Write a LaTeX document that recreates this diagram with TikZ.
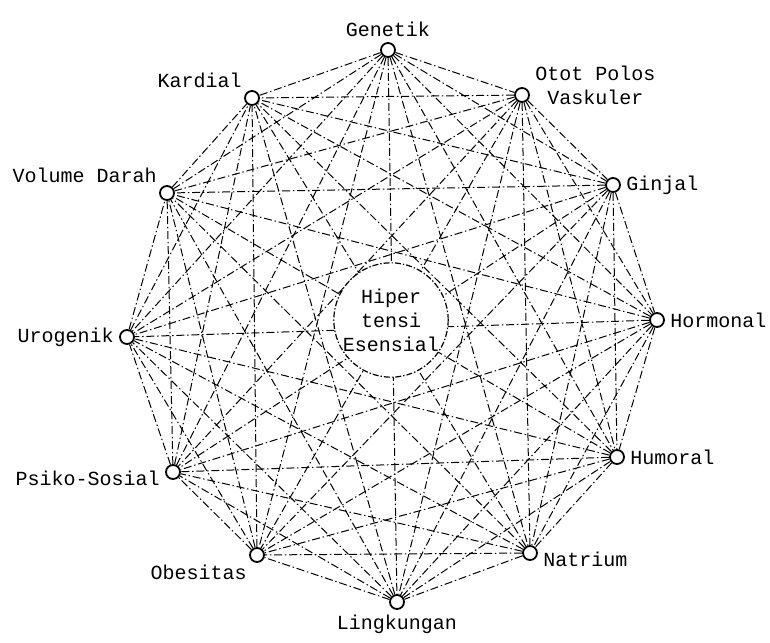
\documentclass[tikz,border=0pt]{standalone}
\usepackage{fontspec}
\setmonofont{Liberation Mono}
\usetikzlibrary{positioning}

\begin{document}
\begin{tikzpicture}[
    % pixel-like units, y going down
    x=0.5pt, y=-0.5pt,
    label distance=1pt,
    factor/.style={draw, circle, line width=0.9pt, fill=white, minimum size=7pt, inner sep=0pt},
    every label/.style={font=\ttfamily\fontsize{10}{12}\selectfont, inner sep=1.5pt},
    link/.style={line width=0.5pt, dash pattern=on 4pt off 1.4pt on 0.7pt off 1.4pt},
    core/.style={draw, circle, line width=0.6pt, dash pattern=on 3pt off 1pt on 0.7pt off 1pt, fill=white, inner sep=0pt, align=center, font=\ttfamily\fontsize{10}{12}\selectfont}
]
    \useasboundingbox (0,0) rectangle (770,642);

    % Define the factors round the ring
    \node[factor, label={above:Genetik}] (genetik) at (388,50) {};
    \node[factor, label={[align=center, yshift=5pt]right:{Otot Polos\\Vaskuler}}] (otot) at (522,95) {};
    \node[factor, label={right:Ginjal}] (ginjal) at (613,185) {};
    \node[factor, label={right:Hormonal}] (hormonal) at (657,320) {};
    \node[factor, label={right:Humoral}] (humoral) at (617,457) {};
    \node[factor, label={[yshift=-3pt]right:Natrium}] (natrium) at (530,553) {};
    \node[factor, label={below:Lingkungan}] (lingkungan) at (397,602) {};
    \node[factor, label={below left:Obesitas}] (obesitas) at (257,555) {};
    \node[factor, label={[yshift=-3pt]left:Psiko-Sosial}] (psiko) at (173,472) {};
    \node[factor, label={left:Urogenik}] (urogenik) at (127,337) {};
    \node[factor, label={above left:Volume Darah}] (volume) at (167,193) {};
    \node[factor, label={above left:Kardial}] (kardial) at (252,98) {};

    % Every factor linked with every other
    \foreach \a [count=\i] in {genetik,otot,ginjal,hormonal,humoral,natrium,lingkungan,obesitas,psiko,urogenik,volume,kardial}
      \foreach \b [count=\j] in {genetik,otot,ginjal,hormonal,humoral,natrium,lingkungan,obesitas,psiko,urogenik,volume,kardial}
        {\ifnum\i<\j \draw[link] (\a) -- (\b); \fi}

    % The centre covers the links
    \node[core] (hipertensi) at (391,320) {Hiper\\tensi\\Esensial};
\end{tikzpicture}
\end{document}
